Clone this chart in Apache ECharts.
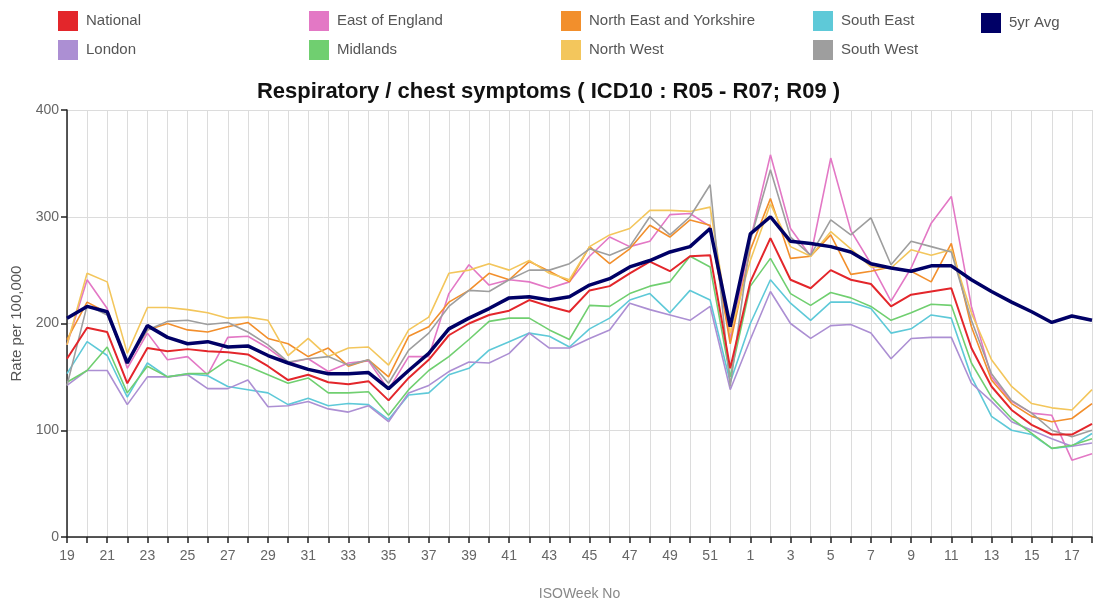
<!DOCTYPE html>
<html>
<head>
<meta charset="utf-8">
<script src="https://cdn.jsdelivr.net/npm/echarts@6/dist/echarts.min.js"></script>
<style>
  html, body { margin: 0; padding: 0; background: #fff; }
  #chart { width: 1097px; height: 608px; }
</style>
</head>
<body>
<div id="chart"></div>
<script>
// ISO weeks 19..52 then 1..18
var weeks = ['19','20','21','22','23','24','25','26','27','28','29','30','31','32','33','34','35','36','37','38',
  '39','40','41','42','43','44','45','46','47','48','49','50','51','52',
  '1','2','3','4','5','6','7','8','9','10','11','12','13','14','15','16','17','18'];

var national = [167,196,192,144,177,174,176,174,173,171,160,147,152,145,143,146,
  128,149,166,189,200,208,212,222,216,211,231,235,247,258,249,263,264,
  158,239,280,241,233,250,241,237,216,227,230,233,177,141,119,105,96,96,106];
var eastOfEngland = [180,241,214,158,191,166,169,152,187,188,177,163,167,155,163,165,
  138,169,169,228,255,236,241,239,233,239,263,281,272,277,302,303,291,
  185,278,358,289,263,355,287,256,221,252,294,319,216,150,127,116,114,72,78];
var neYorkshire = [185,220,210,163,194,200,194,192,197,201,186,181,169,177,160,166,
  150,188,197,220,231,247,241,258,249,239,272,256,270,292,281,297,292,
  181,269,317,261,263,283,246,249,253,249,239,275,197,147,125,113,108,111,125];
var southEast = [153,183,170,131,163,150,153,151,141,138,135,124,130,123,125,124,
  110,133,135,152,158,175,183,191,188,178,195,205,222,228,210,231,222,
  145,200,241,219,203,220,220,214,191,195,208,205,150,113,100,96,83,85,97];
var london = [142,156,156,124,150,150,152,139,139,147,122,123,127,120,117,123,
  108,135,142,155,164,163,172,191,177,177,186,194,219,213,208,203,216,
  138,185,230,200,186,198,199,191,167,186,187,187,144,127,108,100,92,85,88];
var midlands = [145,156,178,135,160,150,153,153,166,160,152,144,149,135,135,136,
  114,138,156,169,185,202,205,205,194,185,217,216,228,235,239,263,253,
  150,235,261,228,217,229,224,216,203,210,218,217,163,131,111,97,83,86,92];
var northWest = [180,247,239,172,215,215,213,210,205,206,203,170,186,169,177,178,
  161,194,206,247,250,256,250,259,247,241,272,283,289,306,306,305,309,
  191,259,312,272,263,286,270,253,252,269,264,269,210,166,141,125,121,119,138];
var southWest = [142,217,208,163,194,202,203,199,201,192,180,164,167,169,161,166,
  144,175,191,216,231,230,241,250,250,256,270,264,272,300,283,300,330,
  141,278,344,281,264,297,283,299,255,277,272,267,203,153,128,116,100,94,100];
var avg5yr = [205,216,211,163,198,187,181,183,178,179,170,163,157,153,153,154,
  139,156,172,195,205,214,224,225,222,225,236,242,253,259,267,272,289,
  197,284,300,277,275,272,267,256,252,249,254,254,241,230,220,211,201,207,203];

var yTicks = [0, 100, 200, 300, 400];

var font = 'Liberation Sans, Arial, sans-serif';

function line(name, data, color, width) {
  return {
    name: name,
    type: 'line',
    data: data,
    symbol: 'none',
    lineStyle: { color: color, width: width },
    itemStyle: { color: color }
  };
}

function legendCol(left, top, names) {
  return {
    orient: 'vertical',
    left: left,
    top: top,
    data: names,
    icon: 'rect',
    itemWidth: 20,
    itemHeight: 20,
    itemGap: 9,
    selectedMode: false,
    textStyle: { color: '#555', fontSize: 15, fontFamily: font, padding: [0, 0, 0, 3] }
  };
}

var chart = echarts.init(document.getElementById('chart'));
chart.setOption({
  animation: false,
  title: {
    text: 'Respiratory / chest symptoms ( ICD10 : R05 - R07; R09 )',
    left: 'center',
    top: 76,
    textStyle: { fontFamily: font, fontSize: 22, fontWeight: 'bold', color: '#111' }
  },
  legend: [
    legendCol(53, 6, ['National', 'London']),
    legendCol(304, 6, ['East of England', 'Midlands']),
    legendCol(556, 6, ['North East and Yorkshire', 'North West']),
    legendCol(808, 6, ['South East', 'South West']),
    legendCol(976, 8, ['5yr Avg'])
  ],
  grid: { left: 67, right: 5, top: 110, bottom: 71 },
  xAxis: {
    type: 'category',
    data: weeks,
    boundaryGap: false,
    name: 'ISOWeek No',
    nameLocation: 'middle',
    nameGap: 50,
    nameTextStyle: { color: '#888', fontSize: 14, fontFamily: font },
    axisLine: { lineStyle: { color: '#222', width: 1.5 } },
    axisTick: { interval: 0, length: 6, lineStyle: { color: '#222', width: 1.5 } },
    axisLabel: { interval: 1, color: '#666', fontSize: 14, fontFamily: font, margin: 12 },
    splitLine: { show: true, interval: 0, lineStyle: { color: '#dcdcdc', width: 1 } }
  },
  yAxis: {
    type: 'value',
    min: yTicks[0],
    max: yTicks[yTicks.length - 1],
    interval: 100,
    name: 'Rate per 100,000',
    nameLocation: 'middle',
    nameGap: 41,
    nameTextStyle: { color: '#555', fontSize: 15, fontFamily: font },
    axisLine: { show: true, lineStyle: { color: '#222', width: 1.5 } },
    axisTick: { show: true, length: 6, lineStyle: { color: '#222', width: 1.5 } },
    axisLabel: { color: '#666', fontSize: 14, fontFamily: font, margin: 8 },
    splitLine: { show: true, lineStyle: { color: '#dcdcdc', width: 1 } }
  },
  series: [
    line('East of England', eastOfEngland, '#e378c5', 1.6),
    line('North East and Yorkshire', neYorkshire, '#f28f2c', 1.6),
    line('South East', southEast, '#5ec9d8', 1.6),
    line('London', london, '#ac8fd3', 1.6),
    line('Midlands', midlands, '#70cf70', 1.6),
    line('North West', northWest, '#f3c65c', 1.6),
    line('South West', southWest, '#9e9e9e', 1.6),
    line('National', national, '#e3262b', 2),
    line('5yr Avg', avg5yr, '#000066', 3.5)
  ]
});
</script>
</body>
</html>
